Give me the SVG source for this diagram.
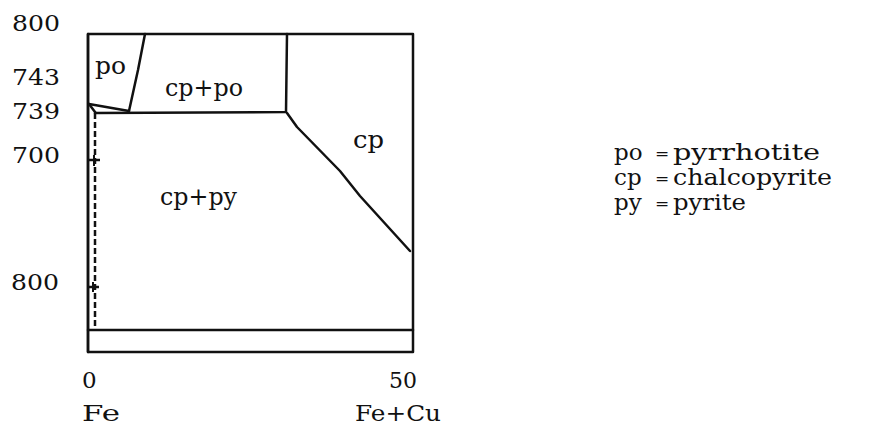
<svg xmlns="http://www.w3.org/2000/svg" width="876" height="428" viewBox="0 0 876 428">
<style>
text{font-family:"DejaVu Serif","Liberation Serif",serif;fill:#111}
.ax{font-size:23px}
.lb{font-size:24px}
.lg{font-size:23px}
.eq{font-size:17px}
.ln{fill:none;stroke:#111;stroke-width:2.5;stroke-linejoin:round;stroke-linecap:round}
</style>
<rect width="876" height="428" fill="#fff"/>
<g id="axis-labels">
<text class="ax" x="12" y="31" textLength="48" lengthAdjust="spacingAndGlyphs">800</text>
<text class="ax" x="12" y="85" textLength="48" lengthAdjust="spacingAndGlyphs">743</text>
<text class="ax" x="12" y="119" textLength="48" lengthAdjust="spacingAndGlyphs">739</text>
<text class="ax" x="12" y="163" textLength="48" lengthAdjust="spacingAndGlyphs">700</text>
<text class="ax" x="11" y="290" textLength="48" lengthAdjust="spacingAndGlyphs">800</text>
<text class="ax" x="82" y="388">0</text>
<text class="ax" x="389" y="388" textLength="28" lengthAdjust="spacingAndGlyphs">50</text>
<text class="ax" x="82" y="421" textLength="38" lengthAdjust="spacingAndGlyphs">Fe</text>
<text class="ax" x="355" y="421" textLength="86" lengthAdjust="spacingAndGlyphs">Fe+Cu</text>
</g>
<g id="frame">
<rect class="ln" x="88" y="34" width="325" height="318"/>
<line class="ln" x1="88" y1="34" x2="88" y2="352" stroke-width="3.5"/>
<line class="ln" x1="88" y1="330" x2="413" y2="330"/>
</g>
<g id="connectors">
<polyline class="ln" points="145,34 138,70 129,111"/>
<polyline class="ln" points="287,34 286,112 95,113"/>
<polyline class="ln" points="287,113 297,127 340,171 360,196 410,251"/>
<polyline class="ln" points="89,104 129,111" stroke-width="2"/>
<polyline class="ln" points="89,104 95,112" stroke-width="2"/>
<line x1="95" y1="113" x2="95" y2="330" stroke="#111" stroke-width="2.5" stroke-dasharray="6,3"/>
<line x1="88" y1="160" x2="100" y2="160" stroke="#111" stroke-width="2.5"/>
<line x1="94" y1="155" x2="94" y2="166" stroke="#111" stroke-width="2"/>
<line x1="88" y1="287" x2="99" y2="287" stroke="#111" stroke-width="2.5"/>
<line x1="93" y1="282" x2="93" y2="292" stroke="#111" stroke-width="2"/>
</g>
<g id="region-po"><text class="lb" x="95" y="74" textLength="31" lengthAdjust="spacingAndGlyphs">po</text></g>
<g id="region-cp-po"><text class="lb" x="165" y="96" textLength="78" lengthAdjust="spacingAndGlyphs">cp+po</text></g>
<g id="region-cp"><text class="lb" x="353" y="148" textLength="31" lengthAdjust="spacingAndGlyphs">cp</text></g>
<g id="region-cp-py"><text class="lb" x="160" y="205" textLength="77" lengthAdjust="spacingAndGlyphs">cp+py</text></g>
<g id="legend">
<text class="lg" x="614" y="160">po</text>
<text class="eq" x="655" y="159">=</text>
<text class="lg" x="673" y="160" textLength="147" lengthAdjust="spacingAndGlyphs">pyrrhotite</text>
<text class="lg" x="614" y="185">cp</text>
<text class="eq" x="655" y="184">=</text>
<text class="lg" x="673" y="185" textLength="159" lengthAdjust="spacingAndGlyphs">chalcopyrite</text>
<text class="lg" x="614" y="210">py</text>
<text class="eq" x="655" y="209">=</text>
<text class="lg" x="673" y="210" textLength="73" lengthAdjust="spacingAndGlyphs">pyrite</text>
</g>
</svg>
